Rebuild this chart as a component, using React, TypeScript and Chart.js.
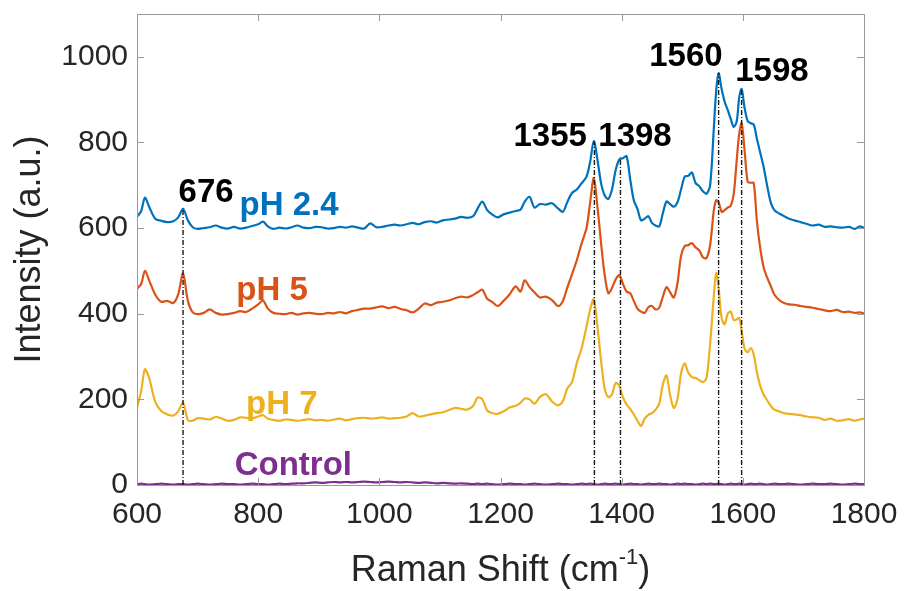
import React, { useEffect, useRef } from "react";
import { Chart, registerables } from "chart.js";

Chart.register(...registerables);

const FONT = '"Liberation Sans", Arial, Helvetica, sans-serif';

// Raman shift grid (cm^-1)
const wavenumbers = [
  600, 607, 613, 620, 630, 640, 650, 660, 668, 676,
  684, 692, 700, 710, 720, 730, 740, 750, 760, 770,
  780, 790, 800, 808, 816, 825, 835, 845, 855, 865,
  875, 885, 895, 905, 915, 925, 935, 945, 955, 965,
  975, 985, 995, 1005, 1015, 1025, 1035, 1045, 1055, 1065,
  1075, 1085, 1095, 1105, 1115, 1125, 1135, 1145, 1155, 1162,
  1170, 1178, 1186, 1195, 1205, 1215, 1225, 1233, 1240, 1248,
  1256, 1265, 1275, 1285, 1295, 1303, 1310, 1318, 1326, 1334,
  1342, 1348, 1354, 1360, 1366, 1372, 1378, 1384, 1390, 1396,
  1402, 1408, 1414, 1420, 1426, 1432, 1438, 1444, 1450, 1456,
  1462, 1468, 1474, 1480, 1486, 1492, 1498, 1504, 1510, 1516,
  1522, 1528, 1534, 1540, 1546, 1552, 1556, 1560, 1565, 1570,
  1575, 1580, 1585, 1590, 1594, 1598, 1603, 1608, 1613, 1618,
  1623, 1628, 1634, 1640, 1646, 1652, 1660, 1668, 1676, 1685,
  1695, 1705, 1715, 1725, 1735, 1745, 1755, 1765, 1775, 1785,
  1793, 1800,
];

const pH24 = [
  626, 640, 671, 650, 622, 617, 614, 616, 625, 645,
  618, 602, 598, 600, 602, 606, 601, 599, 603, 599,
  601, 605, 609, 615, 604, 598, 601, 599, 602, 606,
  601, 600, 603, 602, 599, 600, 603, 601, 604, 601,
  599, 611, 602, 603, 606, 608, 606, 609, 612, 609,
  614, 616, 613, 618, 620, 622, 626, 624, 628, 645,
  662, 642, 632, 625, 632, 636, 640, 643, 662, 673,
  648, 656, 655, 658, 646, 638, 660, 682, 690, 705,
  720, 755, 803, 760, 705, 676, 668, 690, 735, 760,
  763, 768, 715, 665, 645, 618, 622, 628, 612, 606,
  604, 635, 662, 656, 650, 660, 690, 720, 722, 730,
  705, 698, 686, 680, 700, 830, 920, 962, 925, 895,
  876, 855, 836, 850, 905, 925, 880, 850, 845, 842,
  810, 780, 745, 700, 660, 642, 634, 628, 622, 618,
  614, 610, 606, 608, 603, 604, 602, 601, 603, 598,
  604, 601,
];

const pH5 = [
  458, 470, 500, 478, 445, 428, 430, 425, 445, 494,
  430, 403, 399, 402, 410, 402, 398, 399, 402, 406,
  404, 412, 422, 431, 412, 402, 400, 399, 402, 398,
  401, 402, 400, 399, 402, 401, 404, 401, 406, 409,
  412, 412, 415, 417, 413, 416, 411, 408, 403, 412,
  424, 420, 426, 428, 431, 436, 440, 438, 444, 450,
  456, 435, 428, 418, 430, 445, 464, 452, 478, 462,
  450, 438, 440, 432, 418, 430, 460, 492, 525, 565,
  600, 660, 717, 650, 565, 490, 448, 460, 480, 490,
  470, 452, 448, 430, 412, 405, 402, 415, 418, 410,
  414, 440, 462, 450, 438, 470, 535, 558, 560, 565,
  555, 548, 532, 530, 560, 640, 665, 660, 638, 642,
  648, 652, 680, 760, 820, 845, 780, 708, 706, 705,
  620, 560, 510, 485, 465, 445, 432, 425, 422, 421,
  418, 416, 414, 411, 408, 406, 409, 404, 405, 402,
  403, 401,
];

const pH7 = [
  180, 220, 270, 250, 195, 173, 165, 162, 172, 192,
  152, 150, 156, 155, 153, 159, 155, 150, 152, 158,
  157, 155, 160, 163, 155, 152, 150, 153, 152, 150,
  152, 154, 151, 152, 150, 153, 155, 151, 154, 156,
  157, 155, 156, 158, 155, 156, 157, 160, 168, 160,
  162, 165, 168, 170, 175, 180, 178, 176, 185, 204,
  200, 174, 168, 166, 172, 181, 185, 192, 202, 200,
  190, 205, 212, 195, 186, 196, 225, 240, 285, 320,
  370, 410, 434, 370, 290, 225, 205, 212, 238, 232,
  205, 188, 178, 165, 150, 138, 155, 164, 168, 176,
  190, 235, 256, 210, 180, 200, 260, 284, 262, 252,
  250, 245, 240, 250, 330, 440, 495, 460, 390, 375,
  400, 405, 385, 387, 390, 360, 318, 310, 320, 305,
  265, 235, 212, 198, 185, 176, 172, 168, 166, 165,
  163, 160, 158, 157, 152, 155, 150, 151, 154, 150,
  153, 155,
];

const control = [
  2, 3, 2, 1, 2, 3, 2, 1, 2, 2,
  1, 2, 3, 2, 1, 2, 3, 2, 2, 1,
  2, 3, 2, 2, 1, 2, 3, 2, 3, 4,
  4, 5, 6, 5, 6, 7, 6, 7, 6, 7,
  8, 7, 6, 7, 8, 7, 6, 7, 6, 5,
  6, 5, 4, 5, 4, 3, 4, 3, 2, 3,
  2, 3, 2, 1, 2, 3, 2, 2, 1, 2,
  3, 2, 1, 2, 3, 2, 2, 1, 2, 3,
  2, 3, 2, 1, 2, 3, 2, 2, 3, 2,
  1, 2, 3, 2, 2, 1, 2, 3, 2, 2,
  3, 2, 2, 1, 2, 3, 2, 3, 2, 2,
  1, 2, 3, 2, 3, 2, 2, 3, 2, 1,
  2, 3, 2, 2, 3, 2, 1, 2, 3, 2,
  2, 3, 2, 1, 2, 3, 2, 2, 3, 2,
  1, 2, 3, 2, 2, 3, 2, 1, 2, 3,
  2, 2,
];

const seriesNames = ["pH 2.4", "pH 5", "pH 7", "Control"];
const seriesColors = ["#0072BD", "#D95319", "#EDB120", "#7E2F8E"];
const seriesLabelX = [851, 823, 839, 858];
const seriesLabelY = [652, 453, 188, 45];

const peakPositions = [676, 1355, 1398, 1560, 1598];
const peakTops = [645, 803, 765, 962, 925];
const peakLabels = ["676", "1355", "1398", "1560", "1598"];
const peakLabelX = [714, 1282, 1422, 1506, 1648];
const peakLabelY = [682, 814, 814, 999, 964];

const xTickValues = [600, 800, 1000, 1200, 1400, 1600, 1800];
const yTickValues = [0, 200, 400, 600, 800, 1000];

const X_MIN = 600;
const X_MAX = 1800;
const Y_MIN = 0;
const Y_MAX = 1100;

const overlayPlugin = {
  id: "overlay",
  afterDraw(chart: any) {
    const { ctx, chartArea } = chart;
    const xs = chart.scales.x;
    const ys = chart.scales.y;
    const { left, right, top, bottom } = chartArea;
    ctx.save();
    // box
    ctx.strokeStyle = "#9a9a9a";
    ctx.lineWidth = 1;
    ctx.strokeRect(left + 0.5, top + 0.5, right - left, bottom - top);
    // inward ticks
    const tl = 7;
    ctx.beginPath();
    xTickValues.forEach((v) => {
      const px = Math.round(xs.getPixelForValue(v)) + 0.5;
      ctx.moveTo(px, bottom);
      ctx.lineTo(px, bottom - tl);
      ctx.moveTo(px, top);
      ctx.lineTo(px, top + tl);
    });
    yTickValues.forEach((v) => {
      const py = Math.round(ys.getPixelForValue(v)) + 0.5;
      ctx.moveTo(left, py);
      ctx.lineTo(left + tl, py);
      ctx.moveTo(right, py);
      ctx.lineTo(right - tl, py);
    });
    ctx.stroke();

    // peak labels
    ctx.textAlign = "center";
    ctx.textBaseline = "middle";
    ctx.font = `bold 33px ${FONT}`;
    ctx.fillStyle = "#000000";
    peakLabels.forEach((t, i) => {
      ctx.fillText(t, xs.getPixelForValue(peakLabelX[i]), ys.getPixelForValue(peakLabelY[i]));
    });
    // series labels
    seriesNames.forEach((t, i) => {
      ctx.fillStyle = seriesColors[i];
      ctx.fillText(t, xs.getPixelForValue(seriesLabelX[i]), ys.getPixelForValue(seriesLabelY[i]));
    });

    // x axis title with superscript
    const main = "Raman Shift (cm";
    const sup = "-1";
    const tail = ")";
    ctx.fillStyle = "#262626";
    ctx.font = `36px ${FONT}`;
    const wMain = ctx.measureText(main).width;
    const wTail = ctx.measureText(tail).width;
    ctx.font = `22px ${FONT}`;
    const wSup = ctx.measureText(sup).width;
    const total = wMain + wSup + wTail;
    const cx = (left + right) / 2;
    const baseY = bottom + 96;
    let x0 = cx - total / 2;
    ctx.textAlign = "left";
    ctx.textBaseline = "alphabetic";
    ctx.font = `36px ${FONT}`;
    ctx.fillText(main, x0, baseY);
    x0 += wMain;
    ctx.font = `22px ${FONT}`;
    ctx.fillText(sup, x0, baseY - 17);
    x0 += wSup;
    ctx.font = `36px ${FONT}`;
    ctx.fillText(tail, x0, baseY);
    ctx.restore();
  },
};

export default function App() {
  const canvasRef = useRef<HTMLCanvasElement | null>(null);

  useEffect(() => {
    if (!canvasRef.current) return;
    const mkSeries = (vals: number[], i: number) => ({
      label: seriesNames[i],
      data: wavenumbers.map((x, k) => ({ x, y: vals[k] })),
      borderColor: seriesColors[i],
      backgroundColor: seriesColors[i],
      borderWidth: 2.2,
      pointRadius: 0,
      tension: 0.3,
      fill: false,
      order: 1,
    });
    const markers = peakPositions.map((p, i) => ({
      label: "peak " + peakLabels[i],
      data: [
        { x: p, y: 0 },
        { x: p, y: peakTops[i] },
      ],
      borderColor: "#1a1a1a",
      borderWidth: 1.4,
      borderDash: [5, 2, 1, 2],
      pointRadius: 0,
      tension: 0,
      fill: false,
      order: -1,
    }));

    const chart = new Chart(canvasRef.current, {
      type: "line",
      data: {
        datasets: [
          ...markers,
          mkSeries(pH24, 0),
          mkSeries(pH5, 1),
          mkSeries(pH7, 2),
          mkSeries(control, 3),
        ] as any,
      },
      options: {
        animation: false,
        responsive: true,
        maintainAspectRatio: false,
        layout: { padding: { left: 0, right: 42, top: 14, bottom: 0 } },
        plugins: {
          legend: { display: false },
          tooltip: { enabled: false },
        },
        scales: {
          x: {
            type: "linear",
            min: X_MIN,
            max: X_MAX,
            afterBuildTicks: (scale: any) => {
              scale.ticks = xTickValues.map((v) => ({ value: v }));
            },
            afterFit: (scale: any) => {
              scale.height = 106;
              scale.paddingLeft = 0;
              scale.paddingRight = 0;
            },
            grid: { display: false, drawTicks: false },
            border: { display: false },
            ticks: {
              padding: 12,
              color: "#262626",
              font: { family: FONT, size: 30 },
              maxRotation: 0,
              autoSkip: false,
              callback: (v: any) => String(v),
            },
            title: { display: false },
          },
          y: {
            type: "linear",
            min: Y_MIN,
            max: Y_MAX,
            afterBuildTicks: (scale: any) => {
              scale.ticks = yTickValues.map((v) => ({ value: v }));
            },
            afterFit: (scale: any) => {
              scale.width = 137;
              scale.paddingTop = 0;
              scale.paddingBottom = 0;
            },
            grid: { display: false, drawTicks: false },
            border: { display: false },
            ticks: {
              padding: 9,
              color: "#262626",
              font: { family: FONT, size: 30 },
              autoSkip: false,
              callback: (v: any) => String(v),
            },
            title: {
              display: true,
              text: "Intensity (a.u.)",
              color: "#262626",
              font: { family: FONT, size: 36 },
              padding: { top: 8, bottom: 0 },
            },
          },
        },
      },
      plugins: [overlayPlugin],
    } as any);
    return () => chart.destroy();
  }, []);

  return (
    <div
      style={{
        position: "fixed",
        left: 0,
        top: 0,
        width: 906,
        height: 591,
        background: "#ffffff",
      }}
    >
      <canvas ref={canvasRef} />
    </div>
  );
}
